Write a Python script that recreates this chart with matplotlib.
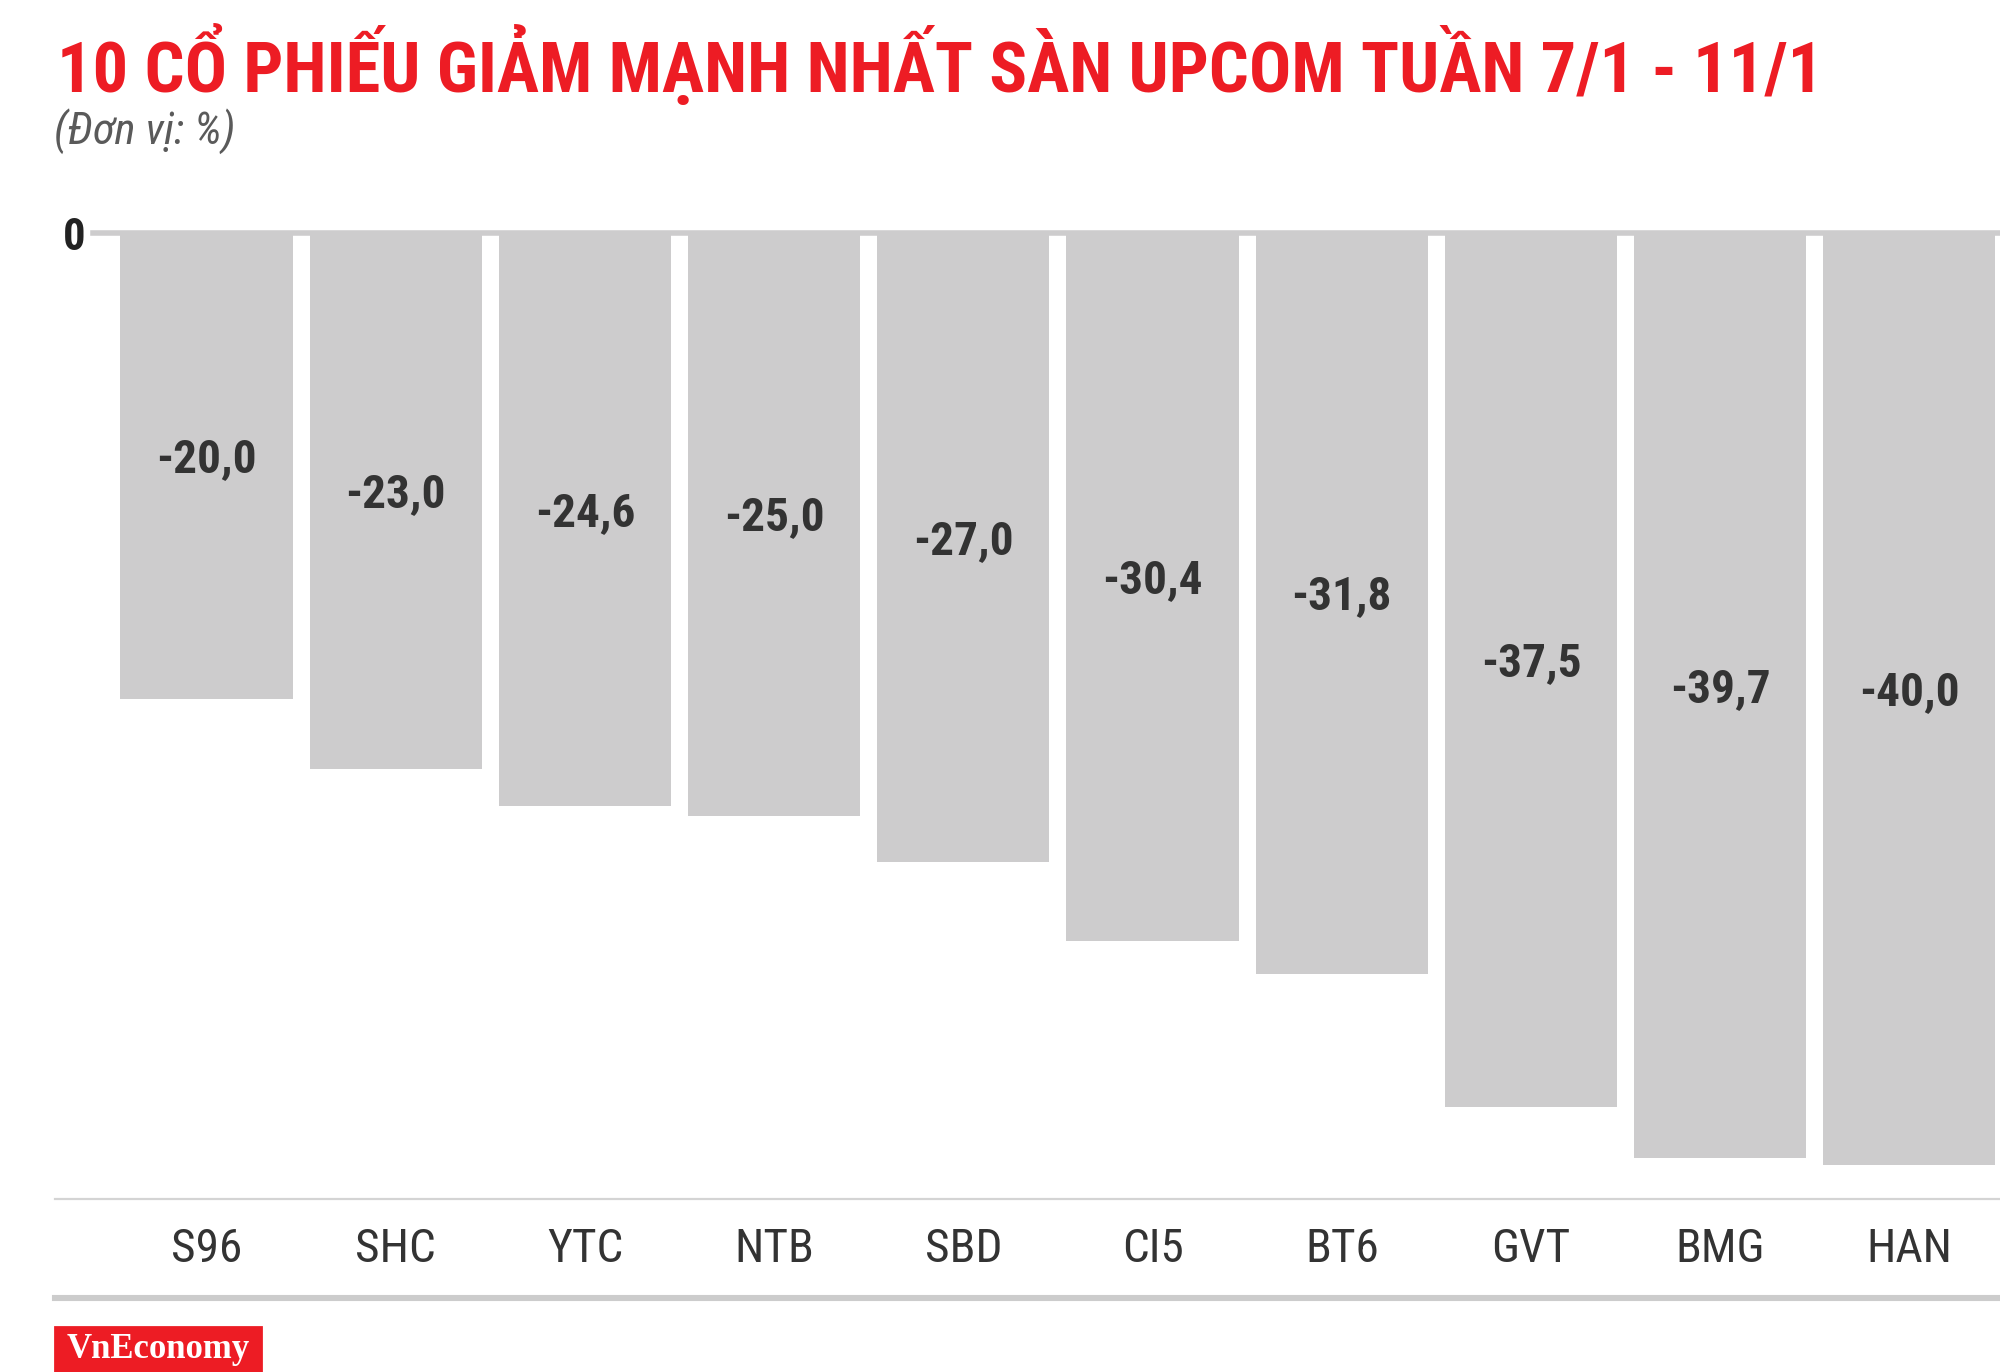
import matplotlib
matplotlib.use("Agg")
import matplotlib.pyplot as plt
from matplotlib import font_manager
from matplotlib.lines import Line2D
from matplotlib.patches import Rectangle

# =========================
# Dữ liệu
# =========================
tickers = ["S96", "SHC", "YTC", "NTB", "SBD", "CI5", "BT6", "GVT", "BMG", "HAN"]
changes = [-20.0, -23.0, -24.6, -25.0, -27.0, -30.4, -31.8, -37.5, -39.7, -40.0]

TITLE = "10 CỔ PHIẾU GIẢM MẠNH NHẤT SÀN UPCOM TUẦN 7/1 - 11/1"
SUBTITLE = "(Đơn vị: %)"

RED = "#ED1C24"
BAR = "#CDCCCD"
DARK = "#333333"

# chọn font hẹp nếu có
names = {f.name for f in font_manager.fontManager.ttflist}
COND = next((n for n in ["Roboto Condensed", "Liberation Sans Narrow", "Roboto"] if n in names), "DejaVu Sans")
FAM = [COND, "DejaVu Sans"]

W, H = 2000, 1372
fig = plt.figure(figsize=(10, 6.86), dpi=200)


def fx(px):
    return px / W


def fy(py):
    return 1 - py / H


# vùng vẽ: trái 55px, phải 2000px, trên 200px, dưới 1199px
ax = fig.add_axes([fx(55), fy(1199), fx(2000) - fx(55), (1199 - 200) / H])
ax.set_xlim(-0.801, 9.479)
ax.set_ylim(-41.46, 1.42)

x = list(range(len(tickers)))
ax.bar(x, changes, width=0.91, color=BAR, zorder=2)
ax.axhline(0, xmin=(93 - 55) / 1945, xmax=1, color=BAR, lw=2.0, zorder=3)

for xi, v in zip(x, changes):
    ax.text(xi, v / 2 + 0.3, f"{v:.1f}".replace(".", ","), ha="center", va="center",
            fontsize=17, fontweight="bold", color=DARK, family=FAM, zorder=4)

ax.text(-0.70, -0.2, "0", ha="center", va="center", fontsize=16, fontweight="bold",
        color="#222222", family=FAM)

for s in ["top", "right", "left"]:
    ax.spines[s].set_visible(False)
ax.spines["bottom"].set_color("#d4d4d4")
ax.spines["bottom"].set_linewidth(0.8)
ax.set_yticks([])
ax.set_xticks(x)
ax.set_xticklabels(tickers, fontsize=17, color=DARK, family=FAM)
ax.tick_params(axis="x", length=0, pad=10)

# đường kẻ dưới
fig.add_artist(Line2D([fx(55), fx(2000)], [fy(1298), fy(1298)], color="#cccccc", lw=2.2))

# tiêu đề
t = fig.text(fx(57), fy(92), TITLE, color=RED, fontsize=26, fontweight="bold",
             family=FAM, ha="left", va="baseline")
fig.canvas.draw()
w = t.get_window_extent().width
t.set_fontsize(26 * min(1.0, 1767 / w))

fig.text(fx(54), fy(144), SUBTITLE, color="#5a5a5a", fontsize=16, style="italic",
         family=FAM, ha="left", va="baseline")

# logo
fig.add_artist(Rectangle((fx(55), 0), fx(261) - fx(55), (1372 - 1327) / H,
                         transform=fig.transFigure, color=RED))
fig.text(fx(158), fy(1350), "VnEconomy", color="white", fontsize=12.5, fontweight="bold",
         family=["Liberation Serif", "DejaVu Serif"], ha="center", va="center")

fig.savefig("out.png", dpi=200)
